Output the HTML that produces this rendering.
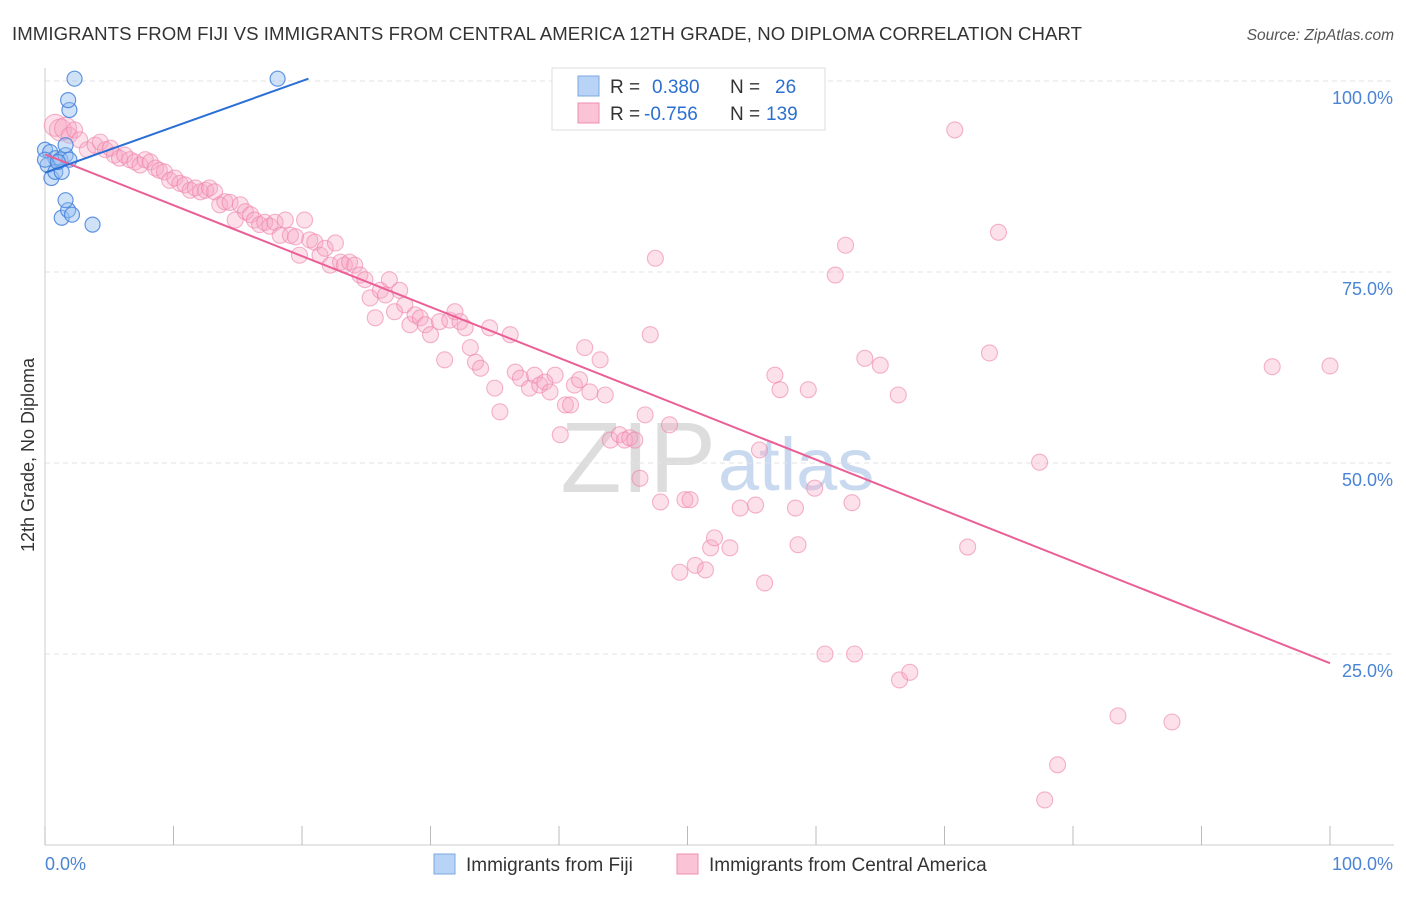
<!DOCTYPE html>
<html><head><meta charset="utf-8"><style>
body{margin:0;background:#fff;font-family:"Liberation Sans",sans-serif}
svg text{font-family:"Liberation Sans",sans-serif}
</style></head><body>
<svg id="chart" width="1406" height="892">
<text x="12" y="40" font-size="18.6" fill="#333" textLength="1070">IMMIGRANTS FROM FIJI VS IMMIGRANTS FROM CENTRAL AMERICA 12TH GRADE, NO DIPLOMA CORRELATION CHART</text>
<text x="1394" y="40" font-size="15.5" fill="#555" font-style="italic" text-anchor="end">Source: ZipAtlas.com</text>
<text x="34" y="455" font-size="18" fill="#333" transform="rotate(-90 34 455)" text-anchor="middle">12th Grade, No Diploma</text>
<text x="716" y="492" font-size="100" fill="#ddd" text-anchor="end" font-family="Liberation Serif">ZIP</text>
<text x="718" y="490" font-size="74" fill="#c9daf0">atlas</text>
<g id="grid"></g><g id="axes"></g><g id="pts"></g><g id="lines"></g>
<g>
<rect x="552" y="68" width="273" height="62" fill="#fff" stroke="#ddd"/>
<rect x="578" y="76" width="21" height="20" fill="#b8d3f5" stroke="#7aa8e0"/>
<rect x="578" y="103" width="21" height="20" fill="#fac4d6" stroke="#f08cb0"/>
<text x="610" y="93" font-size="19" fill="#333">R =</text>
<text x="652" y="93" font-size="19" fill="#2b6fcf">0.380</text>
<text x="730" y="93" font-size="19" fill="#333">N =</text>
<text x="775" y="93" font-size="19" fill="#2b6fcf">26</text>
<text x="610" y="120" font-size="19" fill="#333">R =</text>
<text x="644" y="120" font-size="19" fill="#2b6fcf">-0.756</text>
<text x="730" y="120" font-size="19" fill="#333">N =</text>
<text x="766" y="120" font-size="19" fill="#2b6fcf">139</text>
</g>
<g>
<rect x="434" y="854" width="21" height="20" fill="#b8d3f5" stroke="#7aa8e0"/>
<text x="466" y="871" font-size="19" fill="#333">Immigrants from Fiji</text>
<rect x="677" y="854" width="21" height="20" fill="#fac4d6" stroke="#f08cb0"/>
<text x="709" y="871" font-size="19" fill="#333">Immigrants from Central America</text>
</g>
</svg>
<script>
const pinkX=[0.8,1.2,1.6,1.9,2.3,2.7,3.3,3.9,4.3,4.7,5.1,5.4,5.8,6.2,6.6,7.0,7.4,7.8,8.2,8.6,8.9,9.3,9.7,10.1,10.5,10.9,11.3,11.7,12.1,12.5,12.8,13.2,13.6,14.0,14.4,14.8,15.2,15.6,16.0,16.3,16.7,17.1,17.5,17.9,18.3,18.7,19.1,19.5,19.8,20.2,20.6,21.0,21.4,21.8,22.2,22.6,23.0,23.3,23.7,24.1,24.5,24.9,25.3,25.7,26.1,26.5,26.8,27.2,27.6,28.0,28.4,28.8,29.2,29.6,30.0,30.7,31.1,31.5,31.9,32.3,32.7,33.1,33.5,33.9,34.6,35.0,35.4,36.2,36.6,37.0,37.7,38.1,38.5,38.9,39.3,39.7,40.1,40.5,40.9,41.2,41.6,42.0,42.4,43.2,43.6,44.0,44.7,45.1,45.5,45.9,46.3,46.7,47.1,47.5,47.9,48.6,49.4,49.8,50.2,50.6,51.4,51.8,52.1,53.3,54.1,55.3,55.6,56.0,56.8,57.2,58.4,58.6,59.4,59.9,60.7,61.5,62.3,62.8,63.0,63.8,65.0,66.4,66.5,67.3,70.8,71.8,73.5,74.2,77.4,77.8,78.8,83.5,87.7,95.5,100,54.5];
const pinkY=[94.2,93.6,93.8,92.9,93.6,92.3,91.0,91.6,92.0,91.0,91.2,90.3,89.9,90.3,89.7,89.4,89.0,89.7,89.4,88.6,88.3,88.1,87.0,87.3,86.6,86.4,85.7,86.0,85.5,85.7,86.0,85.5,83.8,84.2,84.1,81.8,83.8,82.9,82.5,81.8,81.2,81.5,81.0,81.5,79.8,81.8,79.8,79.6,77.2,81.8,79.2,78.9,77.2,78.1,75.9,78.8,76.3,75.9,76.3,75.9,74.6,74.0,71.6,69.0,72.6,72.0,74.0,69.8,72.6,70.7,68.1,69.4,69.0,68.1,66.8,68.5,63.5,68.7,69.8,68.5,67.7,65.1,63.2,62.4,67.7,59.8,56.7,66.8,61.9,61.1,59.8,61.5,60.2,60.6,59.3,61.5,53.7,57.6,57.6,60.2,60.9,65.1,59.3,63.5,58.9,53.0,53.7,53.0,53.3,53.0,48.0,56.3,66.8,76.8,44.9,55.0,35.7,45.2,45.2,36.6,36.0,38.9,40.2,38.9,44.1,44.5,51.7,34.3,61.5,59.6,44.1,39.3,59.6,46.7,25.0,74.6,78.5,44.8,25.0,63.7,62.8,58.9,21.6,22.6,93.6,39.0,64.4,80.2,50.1,5.9,10.5,16.9,16.1,62.6,62.7,100];
const fijiX=[0,0.4,0.8,1.2,1.6,0.2,0.5,0.8,1.3,1.6,1.9,1.3,1.8,2.1,1.6,3.7,1.9,1.8,2.3,18.1,0,1.0];
const fijiY=[91.0,90.7,89.9,89.7,90.3,89.0,87.3,88.1,88.1,91.6,89.7,82.1,83.1,82.5,84.4,81.2,96.2,97.5,100.3,100.3,89.7,89.4];
const pinkTrend=[0,90.4,100,23.8];
const fijiTrend=[0,88.0,20.5,100.3];
const yTicks=[100,75,50,25];
const X=v=>45+v*12.85, Y=v=>845-v*7.64;
const NS="http://www.w3.org/2000/svg";
function mk(t,a,p){const e=document.createElementNS(NS,t);for(const k in a)e.setAttribute(k,a[k]);p.appendChild(e);return e;}
const grid=document.getElementById('grid'),axes=document.getElementById('axes'),pts=document.getElementById('pts'),lines=document.getElementById('lines');
yTicks.forEach(t=>{
 const l=mk('line',{x1:45,x2:1394,y1:Y(t),y2:Y(t),stroke:'#e3e3e3','stroke-dasharray':'5,4'},grid);
 
 
 const tx=mk('text',{x:1393,y:Y(t)+23,'font-size':18,fill:'#4a84d4','text-anchor':'end'},axes);
 tx.textContent=t.toFixed(1)+'%';
 
 
});
const ax=mk('line',{x1:45,x2:1394,y1:845,y2:845,stroke:'#ccc'},axes);


const ay=mk('line',{x1:45,x2:45,y1:68,y2:845,stroke:'#ccc'},axes);


for(let i=0;i<=10;i++){const tk=mk('line',{x1:X(i*10),x2:X(i*10),y1:826,y2:845,stroke:'#bbb'},axes);
 
 }
[[0,'0.0%','start',45],[100,'100.0%','end',1393]].forEach(d=>{const t=mk('text',{x:d[3],y:870,'font-size':18,fill:'#4a84d4','text-anchor':d[2]},axes);t.textContent=d[1];
 
 });
pinkX.forEach((x,i)=>{const c=mk('circle',{cx:X(x),cy:Y(pinkY[i]),r:i<3?11:8,fill:'rgba(246,166,196,0.35)',stroke:'rgba(238,130,170,0.6)','stroke-width':1.1},pts);
 
 });
fijiX.forEach((x,i)=>{const c=mk('circle',{cx:X(x),cy:Y(fijiY[i]),r:7.5,fill:'rgba(150,190,240,0.45)',stroke:'rgba(70,130,220,0.85)','stroke-width':1.2},pts);
 
 });
const pl=mk('line',{x1:X(pinkTrend[0]),y1:Y(pinkTrend[1]),x2:X(pinkTrend[2]),y2:Y(pinkTrend[3]),stroke:'#ea5f95','stroke-width':2},lines);


const bl=mk('line',{x1:X(fijiTrend[0]),y1:Y(fijiTrend[1]),x2:X(fijiTrend[2]),y2:Y(fijiTrend[3]),stroke:'#2a6fd6','stroke-width':2},lines);


</script>
</body></html>
